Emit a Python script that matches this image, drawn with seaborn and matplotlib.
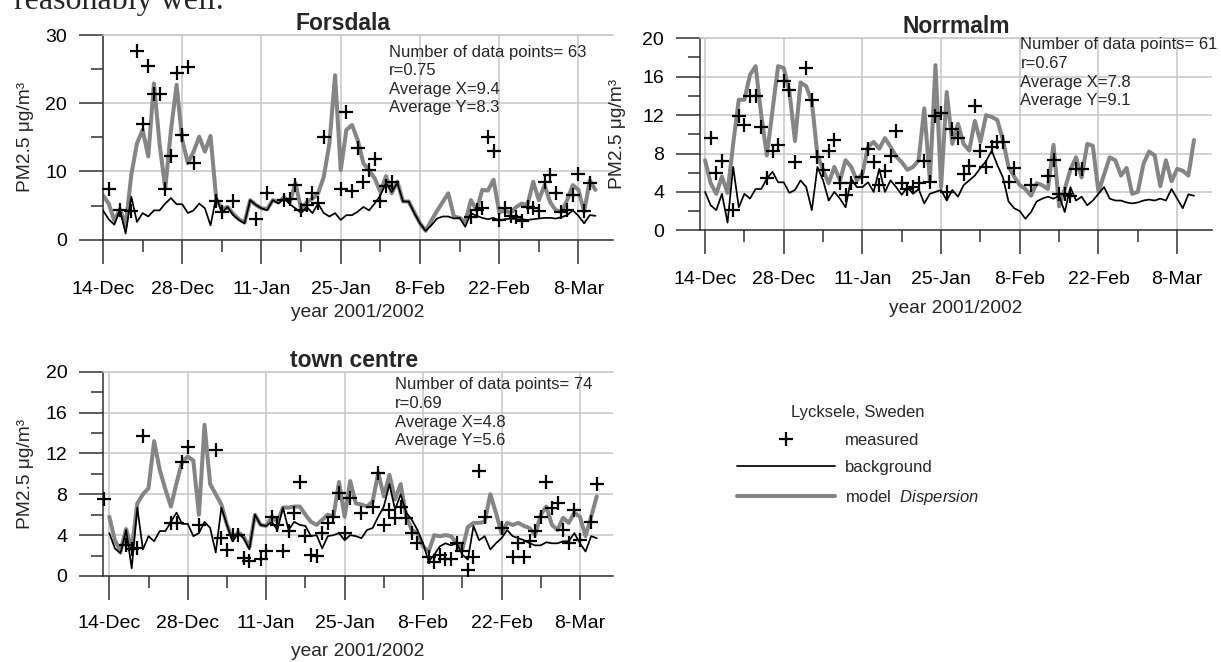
import numpy as np
import pandas as pd
import matplotlib
matplotlib.use("Agg")
import matplotlib.pyplot as plt
import seaborn as sns
from matplotlib.lines import Line2D

# ---------------- data ----------------
START_DATE = "2001-12-14"
N_DAYS = 88
major_tick_dates = pd.date_range("2001-12-14", "2002-03-08", freq="14D")
minor_tick_dates = pd.date_range("2001-12-14", "2002-03-08", freq="7D")
tick_labels = ["14-Dec", "28-Dec", "11-Jan", "25-Jan", "8-Feb", "22-Feb", "8-Mar"]

forsdala_bg = [4.3, 3.0, 2.2, 4.4, 0.9, 6.3, 2.6, 3.9, 3.4, 4.3, 4.3, 5.3, 6.1, 5.2, 5.2, 3.9, 4.3, 5.3, 4.6, 2.1,
               6.3, 3.9, 4.8, 3.6, 2.9, 2.4, 5.8, 5.1, 4.6, 4.3, 5.8, 5.3, 6.1, 5.2, 4.6, 3.9, 4.8, 3.9, 5.3, 3.9,
               3.4, 3.9, 2.9, 3.6, 3.6, 4.1, 4.8, 4.3, 5.3, 6.5, 8.3, 7.0, 8.3, 5.6, 5.6, 3.9, 2.4, 1.3, 2.1, 3.1,
               3.4, 3.4, 3.1, 3.2, 1.9, 3.9, 3.5, 3.2, 3.0, 3.2, 2.8, 3.0, 3.1, 3.0, 3.0, 2.9, 3.0, 3.1, 3.2, 3.2,
               3.1, 3.3, 3.6, 4.3, 3.5, 2.4, 3.6, 3.5]
forsdala_model = [6.5, 5.3, 2.8, 4.5, 2.0, 9.5, 14.1, 16.1, 12.2, 22.9, 14.0, 7.5, 16.0, 22.7, 14.6, 11.2, 12.9, 15.1, 12.9, 15.2,
                  6.0, 4.5, 4.8, 3.8, 3.0, 2.5, 5.8, 5.1, 4.6, 4.5, 5.8, 5.5, 6.2, 5.5, 8.3, 4.5, 5.5, 6.0, 6.8, 9.2,
                  14.1, 24.1, 10.2, 16.1, 16.8, 14.6, 11.2, 10.2, 9.0, 7.0, 9.3, 6.8, 8.5, 5.6, 5.6, 4.0, 2.4, 1.3, 2.8, 4.2,
                  5.5, 6.8, 3.4, 3.2, 2.6, 5.8, 4.3, 7.3, 7.2, 8.8, 4.0, 4.3, 3.9, 4.8, 5.3, 5.1, 8.5, 5.8, 8.0, 5.5,
                  4.3, 4.1, 5.8, 8.0, 7.3, 4.1, 8.7, 7.3]
forsdala_meas_day = [1, 3, 5, 6, 7, 8, 9, 10, 11, 12, 13, 14, 15, 16, 20, 21, 23, 27, 29, 32,
                     33, 34, 35, 36, 37, 38, 39, 42, 43, 44, 45, 46, 47, 48, 49, 50, 51, 65, 66, 67,
                     68, 69, 70, 71, 72, 73, 74, 75, 76, 77, 78, 79, 80, 81, 82, 83, 84, 85, 86]
forsdala_meas = [7.5, 4.4, 4.2, 27.6, 17.0, 25.5, 21.3, 21.4, 7.5, 12.2, 24.4, 15.3, 25.3, 11.3, 5.6, 4.1, 5.7, 3.1, 6.9, 5.8,
                 6.0, 8.0, 4.3, 5.1, 6.8, 5.4, 15.1, 7.4, 18.7, 7.2, 13.4, 8.5, 10.2, 11.8, 5.7, 7.8, 8.5, 3.4, 4.3, 4.6,
                 15.0, 13.0, 2.9, 4.7, 3.5, 3.4, 2.7, 4.8, 4.6, 4.2, 8.5, 9.5, 6.9, 4.0, 4.3, 6.5, 9.6, 4.2, 8.3]

norrmalm_bg = [4.0, 2.6, 2.1, 3.8, 0.8, 6.6, 2.4, 3.8, 3.3, 4.3, 4.3, 5.4, 6.1, 5.0, 5.0, 3.9, 4.2, 5.2, 4.5, 2.1,
               6.6, 5.2, 3.1, 4.0, 3.3, 2.4, 5.4, 4.5, 4.5, 5.0, 4.0, 6.4, 4.0, 5.2, 4.5, 3.7, 4.5, 3.8, 4.3, 2.8,
               3.8, 4.0, 4.2, 3.1, 4.2, 3.5, 4.7, 5.2, 5.7, 6.5, 7.2, 8.3, 6.8, 5.5, 3.0, 2.3, 2.0, 1.2, 1.9, 3.0,
               3.3, 3.5, 3.3, 3.6, 1.9, 4.5, 3.1, 3.5, 2.6, 3.1, 3.8, 4.5, 3.3, 3.1, 3.1, 2.9, 2.8, 2.9, 3.1, 3.2,
               3.1, 3.3, 3.1, 4.3, 3.3, 2.3, 3.75, 3.6]
norrmalm_model = [7.3, 4.9, 3.8, 5.6, 3.9, 9.0, 13.6, 13.6, 16.2, 17.1, 12.0, 7.8, 12.5, 17.1, 16.9, 14.5, 9.3, 15.4, 15.0, 13.4,
                  7.8, 6.3, 4.9, 6.6, 5.2, 7.3, 6.6, 5.2, 5.9, 8.7, 9.2, 8.5, 9.6, 8.7, 7.7, 7.1, 6.3, 6.6, 7.3, 12.7,
                  5.2, 17.2, 4.5, 14.4, 9.0, 11.1, 9.0, 8.3, 11.4, 9.2, 12.0, 11.8, 11.5, 9.4, 6.6, 5.6, 4.7, 4.3, 3.6, 4.9,
                  4.7, 4.3, 8.9, 2.5, 4.3, 6.3, 7.6, 5.5, 9.0, 8.8, 4.0, 5.8, 7.6, 7.3, 5.7, 6.5, 3.8, 4.0, 6.9, 8.2,
                  7.8, 4.6, 7.3, 5.1, 6.4, 6.2, 5.7, 9.4]
norrmalm_meas_day = [1, 2, 3, 5, 6, 7, 8, 9, 10, 11, 12, 13, 14, 15, 16, 18, 19, 20, 21, 22,
                     23, 24, 25, 26, 28, 29, 30, 31, 32, 33, 34, 35, 36, 37, 38, 39, 40, 41, 42, 43,
                     44, 45, 46, 47, 48, 49, 50, 51, 52, 53, 54, 55, 58, 61, 62, 63, 64, 65, 66, 67]
norrmalm_meas = [9.6, 6.0, 7.2, 2.1, 11.9, 11.0, 14.0, 14.0, 10.8, 5.4, 8.3, 8.9, 15.5, 14.6, 7.1, 16.9, 13.6, 7.6, 6.3, 8.3,
                 9.4, 4.9, 3.7, 4.9, 5.6, 8.5, 7.1, 4.7, 6.2, 7.7, 10.3, 4.9, 4.3, 4.5, 4.9, 7.2, 5.0, 11.9, 12.2, 4.0,
                 10.6, 9.6, 5.9, 6.7, 12.9, 8.3, 6.6, 8.7, 9.2, 9.2, 5.0, 6.5, 4.7, 5.7, 7.3, 3.8, 3.8, 3.6, 6.4, 6.4]

town_bg = [4.2, 2.7, 2.2, 4.5, 0.75, 6.7, 2.6, 3.9, 3.4, 4.4, 4.4, 5.3, 6.2, 5.1, 5.1, 3.9, 4.2, 5.3, 4.7, 2.3,
           6.7, 5.0, 3.4, 4.2, 3.7, 2.6, 6.0, 5.0, 4.9, 5.3, 4.5, 6.7, 4.5, 5.3, 5.0, 4.9, 3.9, 4.0, 2.7, 3.9,
           4.0, 4.2, 3.5, 4.0, 3.9, 3.7, 4.5, 4.7, 5.8, 6.8, 9.0, 6.5, 8.0, 6.2, 5.5, 4.5, 3.2, 1.4, 2.1, 2.9,
           3.2, 3.0, 3.2, 2.1, 1.6, 4.9, 3.5, 3.9, 2.6, 3.2, 3.7, 4.5, 3.9, 3.7, 3.5, 3.2, 3.0, 3.0, 3.3, 3.2,
           3.2, 3.4, 3.4, 4.2, 3.2, 2.4, 3.9, 3.7]
town_model = [5.8, 3.5, 2.4, 4.6, 2.6, 7.1, 8.0, 8.6, 13.2, 10.4, 8.5, 6.8, 9.1, 11.2, 11.7, 11.3, 6.0, 14.8, 9.0, 8.0,
              7.0, 5.0, 3.6, 4.3, 3.8, 2.8, 6.0, 5.0, 4.9, 5.8, 5.3, 6.7, 6.7, 6.8, 6.8, 6.0, 5.3, 5.0, 5.5, 6.0,
              5.8, 9.2, 5.8, 9.3, 7.1, 7.0, 6.8, 7.3, 10.1, 7.8, 9.9, 7.5, 9.0, 5.8, 4.5, 4.2, 2.9, 2.4, 4.0, 3.9,
              4.0, 3.9, 3.2, 2.6, 4.8, 5.2, 5.2, 5.3, 8.0, 6.2, 4.2, 5.2, 5.0, 5.2, 4.9, 4.7, 4.0, 6.0, 6.8, 5.0,
              4.5, 5.7, 5.2, 6.2, 5.8, 3.9, 5.8, 7.8]
town_meas_day = [-1, 3, 4, 5, 6, 11, 12, 13, 14, 16, 19, 20, 21, 22, 23, 24, 25, 27, 28, 29,
                 30, 31, 32, 33, 34, 35, 36, 37, 38, 39, 40, 41, 42, 43, 45, 47, 48, 49, 50, 51,
                 52, 53, 54, 55, 57, 58, 59, 60, 61, 62, 63, 64, 65, 66, 67, 70, 72, 73, 74, 75,
                 76, 77, 78, 79, 80, 81, 82, 83, 84, 86, 87]
town_meas = [7.5, 3.0, 2.6, 2.7, 13.7, 5.2, 5.2, 11.2, 12.6, 5.0, 12.3, 3.7, 2.5, 4.0, 4.0, 1.8, 1.5, 1.7, 2.4, 5.8,
             5.0, 2.4, 4.4, 6.2, 9.2, 3.9, 2.1, 2.0, 4.2, 5.2, 5.8, 8.1, 4.2, 7.6, 6.2, 6.8, 10.1, 5.0, 6.5, 5.7,
             6.8, 5.7, 4.2, 3.2, 1.9, 1.4, 2.1, 1.7, 1.7, 3.2, 2.4, 0.6, 1.9, 10.3, 5.8, 4.7, 1.9, 3.2, 1.9, 3.4,
             4.4, 5.8, 9.2, 6.7, 7.1, 4.5, 3.2, 6.5, 3.5, 5.3, 9.0]

forsdala_stats = ["Number of data points= 63", "r=0.75", "Average X=9.4", "Average Y=8.3"]
norrmalm_stats = ["Number of data points= 61", "r=0.67", "Average X=7.8", "Average Y=9.1"]
town_stats = ["Number of data points= 74", "r=0.69", "Average X=4.8", "Average Y=5.6"]

# ---------------- style ----------------
sns.set_theme(style="white")
plt.rcParams["font.family"] = ["Liberation Sans", "DejaVu Sans"]
plt.rcParams["mathtext.fontset"] = "custom"
plt.rcParams["mathtext.rm"] = "Liberation Sans"
plt.rcParams["mathtext.it"] = "Liberation Sans:italic"

W, H = 1221, 662
fig = plt.figure(figsize=(W / 100, H / 100), dpi=100)
fig.patch.set_facecolor("white")

MODEL_C = "#858585"
GRID_C = "#c6c6c6"
AX_C = "#303030"
start = pd.Timestamp(START_DATE)
dates = pd.date_range(START_DATE, periods=N_DAYS, freq="D")


def px_axes(l, t, r, b):
    return fig.add_axes([l / W, 1 - b / H, (r - l) / W, (b - t) / H])


def panel(box, title, title_cx, model, bg, mday, mval, ymax, ystep, stats, stats_xy, xlim_days,
          ylab_x, tick_lab_off, xlab_off):
    l, t, r, b = box
    ax = px_axes(l, t, r, b)
    df = pd.DataFrame({"date": dates, "model": model, "background": bg})
    dm = pd.DataFrame({"date": start + pd.to_timedelta(mday, unit="D"), "measured": mval})
    sns.scatterplot(data=dm, x="date", y="measured", ax=ax, marker="+", s=115,
                    color="black", linewidth=1.6, zorder=4, clip_on=False)
    sns.lineplot(data=df, x="date", y="background", ax=ax, color="black", lw=1.25, zorder=3)
    sns.lineplot(data=df, x="date", y="model", ax=ax, color=MODEL_C, lw=2.9, zorder=2)

    ax.set_xlim(start + pd.Timedelta(days=xlim_days[0]), start + pd.Timedelta(days=xlim_days[1]))
    ax.set_ylim(0, ymax)
    ax.set_yticks(np.arange(0, ymax + 0.1, ystep))
    ax.set_yticks(np.arange(ystep / 2, ymax, ystep), minor=True)
    ax.set_yticklabels([f"{v:g}" for v in np.arange(0, ymax + 0.1, ystep)])
    ax.set_xticks(major_tick_dates)
    ax.set_xticklabels(tick_labels)
    ax.set_xticks(minor_tick_dates, minor=True)

    ax.grid(True, which="major", color=GRID_C, lw=1.1, zorder=0)
    ax.set_axisbelow(True)
    ax.spines["right"].set_visible(False)
    ax.spines["top"].set_color(GRID_C)
    ax.spines["top"].set_linewidth(1.1)
    for s in ["left", "bottom"]:
        ax.spines[s].set_color(AX_C)
        ax.spines[s].set_linewidth(1.1)

    ax.tick_params(axis="y", which="major", direction="out", length=17.5, width=1.1,
                   color=AX_C, labelsize=14, pad=8.3, left=True, labelcolor="black")
    ax.tick_params(axis="y", which="minor", direction="out", length=8.6, width=1.1,
                   color=AX_C, left=True)
    ax.tick_params(axis="x", which="major", direction="out", length=17, width=1.1,
                   color=AX_C, labelsize=14, pad=tick_lab_off, bottom=True, labelcolor="black")
    ax.tick_params(axis="x", which="minor", direction="out", length=8.5, width=1.1,
                   color=AX_C, bottom=True)

    ax.set_title(title, fontsize=16.5, fontweight="bold", pad=3.5, x=(title_cx - l) / (r - l))
    ax.set_ylabel("PM2.5 μg/m³", fontsize=13.8)
    ax.yaxis.label.set_verticalalignment("center")
    ax.yaxis.set_label_coords((ylab_x - l) / (r - l), 0.5)
    ax.set_xlabel("year 2001/2002", fontsize=13.8)
    ax.xaxis.label.set_verticalalignment("center")
    ax.xaxis.set_label_coords(0.5, -xlab_off / (b - t))

    sx, sy = stats_xy
    for i, line in enumerate(stats):
        fig.text(sx / W, 1 - (sy + i * 18.6) / H, line, fontsize=12, ha="left", va="center")
    return ax


panel((103, 35, 613, 239.7), "Forsdala", 343, forsdala_model, forsdala_bg, forsdala_meas_day, forsdala_meas,
      30, 10, forsdala_stats, (389, 52), (0, 90.1), 25, 12.6, 73)
panel((700, 38.3, 1212, 230.3), "Norrmalm", 956, norrmalm_model, norrmalm_bg, norrmalm_meas_day, norrmalm_meas,
      20, 4, norrmalm_stats, (1020.5, 45), (-0.9, 90.2), 618, 12.6, 78)
panel((103.3, 371.7, 613, 576), "town centre", 354, town_model, town_bg, town_meas_day, town_meas,
      20, 4, town_stats, (395, 385), (-1.07, 89.9), 25, 10.8, 76)

# legend
handles = [Line2D([], [], marker="+", ls="none", color="black", markersize=9.5, mew=1.6),
           Line2D([], [], color="black", lw=1.25),
           Line2D([], [], color=MODEL_C, lw=2.9)]
labels = ["measured", "background", "model  $\\mathit{Dispersion}$"]
fig.legend(handles, labels, loc="center", bbox_to_anchor=(858 / W, 1 - 456 / H),
           title="Lycksele, Sweden", title_fontsize=12, fontsize=12, frameon=False,
           handlelength=5.9, handletextpad=0.6, labelspacing=0.75, borderpad=0.0)

# cropped body text of the surrounding page
fig.text(14 / W, 1 - 9 / H, "reasonably well.", family=["Liberation Serif", "DejaVu Serif"],
         fontsize=23, ha="left", va="baseline")

fig.savefig("out.png", dpi=100)
